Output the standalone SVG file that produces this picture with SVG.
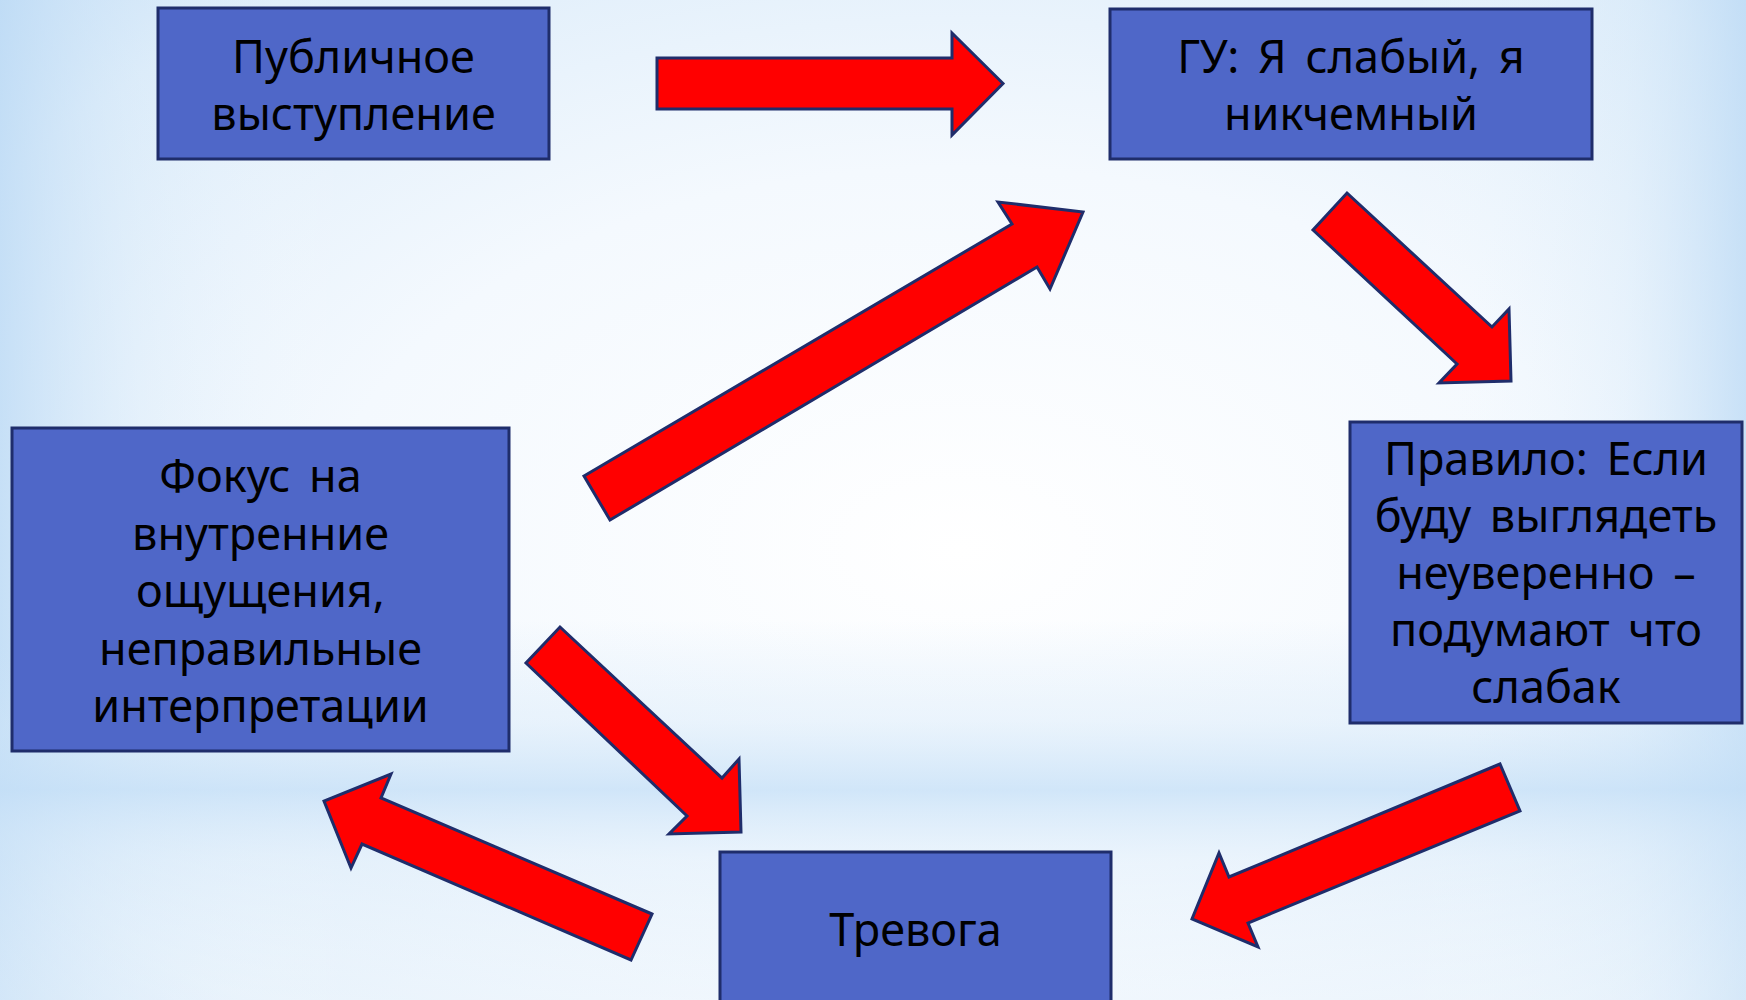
<svg xmlns="http://www.w3.org/2000/svg" width="1746" height="1000" viewBox="0 0 1746 1000">
  <defs>
    <radialGradient id="bg" cx="0.55" cy="0.5" r="0.8" fx="0.55" fy="0.55">
      <stop offset="0" stop-color="#ffffff"/>
      <stop offset="0.45" stop-color="#f4f9fe"/>
      <stop offset="0.8" stop-color="#deedfa"/>
      <stop offset="1" stop-color="#c2ddf6"/>
    </radialGradient>
    <linearGradient id="band" x1="0" y1="0" x2="0" y2="1">
      <stop offset="0" stop-color="#c6e0f7" stop-opacity="0"/>
      <stop offset="0.62" stop-color="#c6e0f7" stop-opacity="0"/>
      <stop offset="0.72" stop-color="#cfe5f8" stop-opacity="0.35"/>
      <stop offset="0.79" stop-color="#c4dff7" stop-opacity="0.75"/>
      <stop offset="0.86" stop-color="#dcecfa" stop-opacity="0.4"/>
      <stop offset="1" stop-color="#ffffff" stop-opacity="0.3"/>
    </linearGradient>
    <linearGradient id="sides" x1="0" y1="0" x2="1" y2="0">
      <stop offset="0" stop-color="#bcdaf5" stop-opacity="0.75"/>
      <stop offset="0.08" stop-color="#d6e9f9" stop-opacity="0.3"/>
      <stop offset="0.2" stop-color="#ffffff" stop-opacity="0"/>
      <stop offset="0.8" stop-color="#ffffff" stop-opacity="0"/>
      <stop offset="0.93" stop-color="#d6e9f9" stop-opacity="0.3"/>
      <stop offset="1" stop-color="#bcdaf5" stop-opacity="0.75"/>
    </linearGradient>
  </defs>
  <style>
    .box { fill: #4f67c8; stroke: #1f2d6b; stroke-width: 3; }
    .lbl { font-family: "Noto Sans", "DejaVu Sans", sans-serif; font-size: 45px; word-spacing: 7px; fill: #000000; text-anchor: middle; }
    .arrow { fill: #ff0000; stroke: #1f2d6b; stroke-width: 3; stroke-linejoin: miter; }
  </style>
  <rect x="0" y="0" width="1746" height="1000" fill="url(#bg)"/>
  <rect x="0" y="0" width="1746" height="1000" fill="url(#sides)"/>
  <rect x="0" y="0" width="1746" height="1000" fill="url(#band)"/>

  <g id="connectors">
    <polygon class="arrow" points="657,58 952,58 952,33 1003,83.5 952,135 952,109 657,109"/>
    <polygon class="arrow" points="1347,193 1492,327 1509,309 1511,381 1439,383 1457,364 1313,230"/>
    <polygon class="arrow" points="1500,764 1229,877 1219,853 1192,919 1258,947 1248,923 1520,811"/>
    <polygon class="arrow" points="652,914 381,798 391,774 324,801 351,868 362,844 631,960"/>
    <polygon class="arrow" points="560,627 722,778 739,759 741,832 669,834 687,816 526,663"/>
    <polygon class="arrow" points="584,476 1012,224 998,202 1083,212 1050,289 1037,267 610,520"/>
  </g>

  <g id="node-public">
    <rect class="box" x="158" y="8" width="391" height="151"/>
    <text class="lbl" x="353.5" y="73">Публичное</text>
    <text class="lbl" x="353.5" y="130">выступление</text>
  </g>
  <g id="node-gu">
    <rect class="box" x="1110" y="9" width="482" height="150"/>
    <text class="lbl" x="1351" y="73">ГУ: Я слабый, я</text>
    <text class="lbl" x="1351" y="130">никчемный</text>
  </g>
  <g id="node-rule">
    <rect class="box" x="1350" y="422" width="392" height="301"/>
    <text class="lbl" x="1546" y="475">Правило: Если</text>
    <text class="lbl" x="1546" y="532">буду выглядеть</text>
    <text class="lbl" x="1546" y="589">неуверенно –</text>
    <text class="lbl" x="1546" y="646">подумают что</text>
    <text class="lbl" x="1546" y="703">слабак</text>
  </g>
  <g id="node-focus">
    <rect class="box" x="12" y="428" width="497" height="323"/>
    <text class="lbl" x="260.5" y="492">Фокус на</text>
    <text class="lbl" x="260.5" y="549.5">внутренние</text>
    <text class="lbl" x="260.5" y="607">ощущения,</text>
    <text class="lbl" x="260.5" y="664.5">неправильные</text>
    <text class="lbl" x="260.5" y="722">интерпретации</text>
  </g>
  <g id="node-anxiety">
    <rect class="box" x="720" y="852" width="391" height="160"/>
    <text class="lbl" x="915.5" y="946">Тревога</text>
  </g>
</svg>
